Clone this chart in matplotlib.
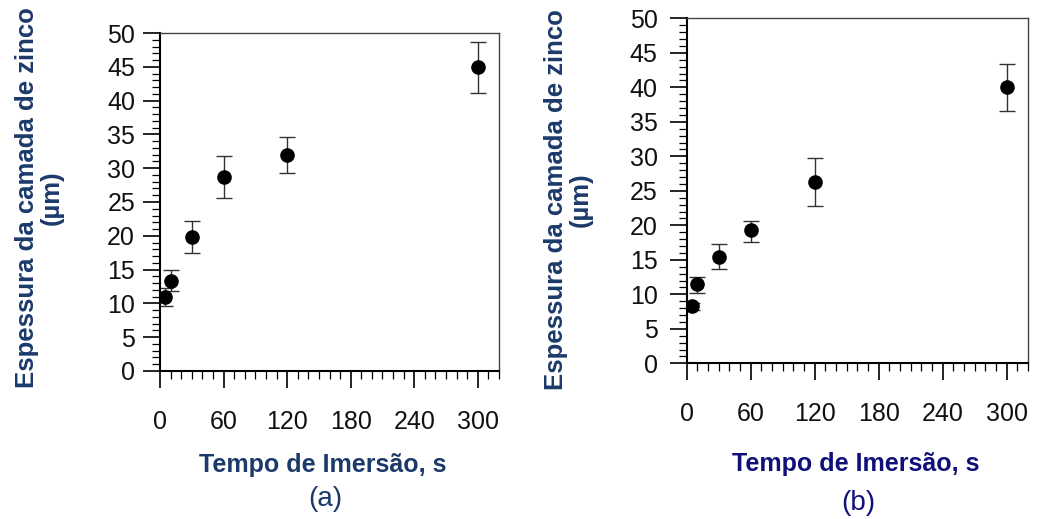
import numpy as np
import matplotlib.pyplot as plt
from matplotlib.ticker import MultipleLocator

# -------------------------------
# DATA
# -------------------------------

tempo = [5, 10, 30, 60, 120, 300]

# panel (a)
esp_a = [10.95, 13.3, 19.85, 28.7, 31.95, 45.0]
err_a_low = [1.4, 1.5, 2.35, 3.1, 2.6, 3.9]
err_a_up = [1.35, 1.6, 2.35, 3.05, 2.6, 3.7]

# panel (b)
esp_b = [8.3, 11.45, 15.45, 19.25, 26.3, 40.1]
err_b_low = [0.6, 1.2, 1.85, 1.65, 3.55, 3.5]
err_b_up = [0.5, 1.1, 1.9, 1.4, 3.5, 3.3]

xticks = [0, 60, 120, 180, 240, 300]
yticks = [0, 5, 10, 15, 20, 25, 30, 35, 40, 45, 50]

ylabel = "Espessura da camada de zinco\n(\u00b5m)"
xlabel = "Tempo de Imersão, s"

# -------------------------------
# FIGURE
# -------------------------------

plt.rcParams['font.family'] = ['Liberation Sans', 'DejaVu Sans']

fig = plt.figure(figsize=(10.37, 5.19), dpi=100)

ax_a = fig.add_axes([0.1543, 0.2852, 0.3269, 0.6512])
ax_b = fig.add_axes([0.6622, 0.3000, 0.3291, 0.6647])

navy_a = '#1b3a6b'
navy_b = '#10107a'


def draw_panel(ax, y, lo, up, ypad):
    ax.errorbar(tempo, y, yerr=[lo, up], fmt='o', color='black',
                markersize=9.5, ecolor='#333333', elinewidth=1.0,
                capsize=6, capthick=1.0)
    ax.set_xlim(0, 320)
    ax.set_ylim(0, 50)
    ax.set_xticks(xticks)
    ax.set_yticks(yticks)
    ax.xaxis.set_minor_locator(MultipleLocator(10))
    ax.yaxis.set_minor_locator(MultipleLocator(1))
    ax.tick_params(which='major', direction='out', length=12, width=1.2,
                   labelsize=18, labelcolor='#111111')
    ax.tick_params(which='minor', direction='out', length=6, width=0.9)
    ax.tick_params(axis='x', which='major', pad=16)
    ax.tick_params(axis='y', which='major', pad=ypad)
    for side in ['left', 'bottom']:
        ax.spines[side].set_linewidth(1.5)
    for side in ['top', 'right']:
        ax.spines[side].set_linewidth(1.0)
        ax.spines[side].set_color('#444444')


draw_panel(ax_a, esp_a, err_a_low, err_a_up, 6)
draw_panel(ax_b, esp_b, err_b_low, err_b_up, 9)

# axis titles drawn as figure text
fig.text(39 / 1037, 1 - 198 / 519, ylabel, rotation=90, ha='center',
         va='center', fontsize=18.5, fontweight='bold', color=navy_a,
         linespacing=1.05, multialignment='center')
fig.text(568 / 1037, 1 - 200 / 519, ylabel, rotation=90, ha='center',
         va='center', fontsize=18.5, fontweight='bold', color=navy_a,
         linespacing=1.05, multialignment='center')

fig.text(323 / 1037, 1 - 465 / 519, xlabel, ha='center', va='center',
         fontsize=18, fontweight='bold', color=navy_a)
fig.text(325 / 1037, 1 - 499 / 519, "(a)", ha='center', va='center',
         fontsize=20, color=navy_a)

fig.text(856 / 1037, 1 - 464 / 519, xlabel, ha='center', va='center',
         fontsize=18, fontweight='bold', color=navy_b)
fig.text(858 / 1037, 1 - 503 / 519, "(b)", ha='center', va='center',
         fontsize=20, color=navy_b)

plt.savefig("out.png", dpi=100)
